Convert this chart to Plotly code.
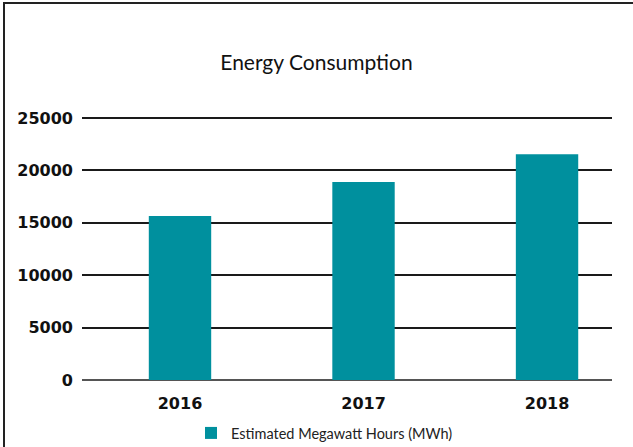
import plotly.graph_objects as go

years = ["2016", "2017", "2018"]
mwh = [15650, 18900, 21550]
series_name = "Estimated Megawatt Hours (MWh)"
y_ticks = [0, 5000, 10000, 15000, 20000, 25000]

W, H = 633, 447
L, R, T, B = 82, 21, 112, 67
pw = W - L - R
ph = H - T - B
y_top = 25000 * ph / (380 - 118)

fig = go.Figure()
fig.add_trace(go.Bar(
    x=years, y=mwh, name=series_name,
    marker=dict(color="#00909e", line=dict(width=0)),
    width=0.34, showlegend=True,
))

def px_x(x):
    return (x - L) / pw

def px_y(y):
    return (H - B - y) / ph

border = dict(color="#222222", width=2)
fig.add_shape(type="line", xref="paper", yref="paper",
              x0=px_x(4), x1=px_x(4), y0=px_y(450), y1=px_y(2.5), line=border, layer="above")
fig.add_shape(type="line", xref="paper", yref="paper",
              x0=px_x(3), x1=px_x(640), y0=px_y(3), y1=px_y(3), line=border, layer="above")

fig.update_layout(
    width=W, height=H,
    margin=dict(l=L, r=R, t=T, b=B, autoexpand=False),
    paper_bgcolor="white", plot_bgcolor="white",
    title=dict(text="Energy Consumption", x=0.5, xanchor="center",
               xref="container", yref="container", y=1 - 63 / H, yanchor="middle",
               font=dict(family="Lato, Open Sans, sans-serif", size=21, color="#111111")),
    xaxis=dict(type="category", range=[-0.534, 2.354], automargin=False,
               showgrid=False, showline=False, ticks="",
               tickfont=dict(family="DejaVu Sans, sans-serif", size=16, color="#111111", weight="bold"),
               ticklabelstandoff=12),
    yaxis=dict(range=[0, y_top], tickvals=y_ticks, ticktext=[str(v) for v in y_ticks],
               automargin=False,
               showgrid=True, gridcolor="#1a1a1a", gridwidth=1.5,
               zeroline=True, zerolinecolor="#555555", zerolinewidth=1.5,
               showline=False, ticks="",
               tickfont=dict(family="DejaVu Sans, sans-serif", size=16, color="#111111", weight="bold"),
               ticklabelstandoff=8),
    legend=dict(orientation="h", x=0.5 + 8 / W, xanchor="center", xref="container",
                y=1 - 433 / H, yref="container", yanchor="middle",
                bgcolor="rgba(0,0,0,0)",
                font=dict(family="Lato, Open Sans, sans-serif", size=14.5, color="#222222"),
                itemwidth=30),
    bargap=0.5,
)

fig.write_html("out.html", config={"displayModeBar": False},
               post_script="document.body.style.margin='0';document.body.style.overflow='hidden';")
